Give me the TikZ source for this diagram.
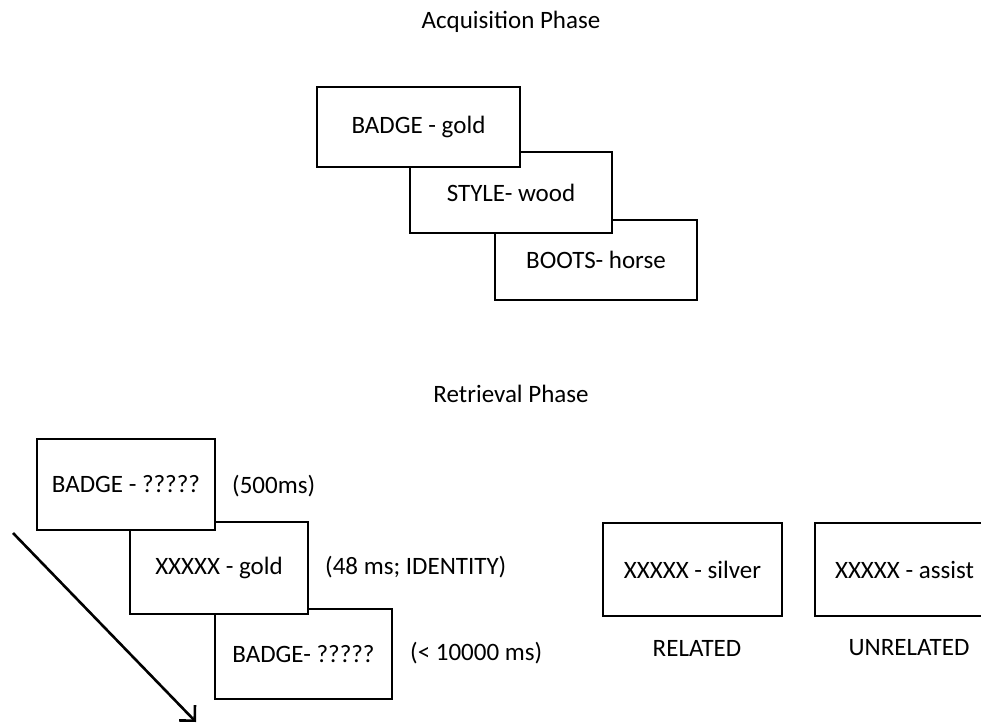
\documentclass[tikz,border=0pt]{standalone}
\usepackage{fontspec}
\setmainfont{Carlito}
\usetikzlibrary{arrows.meta}
\begin{document}
\begin{tikzpicture}[x=1pt,y=-1pt,
  every node/.style={font=\fontsize{25}{30}\selectfont, inner sep=0pt},
  box/.style={draw, line width=2.2pt, fill=white, minimum width=#1},
  box/.default=178pt,
  lbl/.style={anchor=west}]
\clip (0,0) rectangle (981,725);
\useasboundingbox (0,0) rectangle (981,725);
\fill[white] (0,0) rectangle (981,725);
% titles
\node (acq) at (511,22) {Acquisition Phase};
\node (ret) at (511,394) {Retrieval Phase};
% acquisition (earlier boxes lie on top)
\node[box=202pt, minimum height=80pt] (a3) at (596,260) {BOOTS- horse};
\node[box=202pt, minimum height=81pt] (a2) at (511,192.5) {STYLE- wood};
\node[box=203pt, minimum height=80pt] (a1) at (418.5,127) {BADGE - gold};
% retrieval
\node[box=177pt, minimum height=90pt] (r3) at (303.5,654) {BADGE- ?????};
\node[box=178pt, minimum height=92pt] (r2) at (219,568) {XXXXX - gold};
\node[box=178pt, minimum height=91pt] (r1) at (126,484.5) {BADGE - ?????};
\node[lbl] (t1) at (232,486) {(500ms)};
\node[lbl] (t2) at (325,567) {(48 ms; IDENTITY)};
\node[lbl] (t3) at (410,653) {(< 10000 ms)};
% conditions
\node[box=179pt, minimum height=93pt] (rel) at (692.5,569.5) {XXXXX - silver};
\node[box=179pt, minimum height=93pt] (unr) at (904.5,569.5) {XXXXX - assist};
\node (relt) at (697,648) {RELATED};
\node (unrt) at (909,648) {UNRELATED};
% time arrow
\coordinate (as) at (13,533);
\coordinate (ae) at (196,722);
\draw[line width=2.6pt, -{Straight Barb[length=11pt,width=22pt]}] (as) -- (ae);
\end{tikzpicture}
\end{document}
